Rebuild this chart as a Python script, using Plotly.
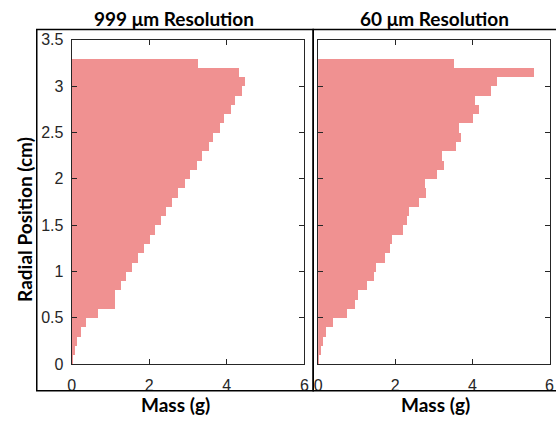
import plotly.graph_objects as go

# Radial bin centres (cm), 0.1 cm bins from 0 to 3.3
radial_pos = [round(0.05 + 0.1 * i, 2) for i in range(33)]

# Mass (g) per bin, bottom (0-0.1) to top (3.2-3.3)
mass_999um = [0.02, 0.07, 0.14, 0.24, 0.36, 0.67, 1.10, 1.10, 1.26, 1.40,
              1.55, 1.70, 1.85, 2.00, 2.14, 2.29, 2.43, 2.58, 2.72, 2.90,
              3.03, 3.21, 3.35, 3.52, 3.64, 3.82, 3.92, 4.09, 4.19, 4.38,
              4.45, 4.31, 3.25]
mass_60um = [0.02, 0.07, 0.14, 0.22, 0.38, 0.76, 0.96, 1.03, 1.28, 1.45,
             1.50, 1.74, 1.87, 1.93, 2.20, 2.32, 2.35, 2.63, 2.81, 2.77,
             3.09, 3.26, 3.21, 3.57, 3.72, 3.65, 4.03, 4.18, 4.07, 4.48,
             4.63, 5.59, 3.52]

titles = ["999 μm Resolution", "60 μm Resolution"]
x_title = "Mass (g)"
y_title = "Radial Position (cm)"
x_ticks = [0, 2, 4, 6]
y_ticks = [0, 0.5, 1, 1.5, 2, 2.5, 3, 3.5]

W, H = 556, 427
BAR = "#F09191"

def px(x):
    return x / W

def py(y):
    return 1 - y / H

fig = go.Figure()
fig.add_trace(go.Bar(x=mass_999um, y=radial_pos, orientation="h", width=0.1,
                     marker=dict(color=BAR, line=dict(width=0)),
                     xaxis="x", yaxis="y", showlegend=False))
fig.add_trace(go.Bar(x=mass_60um, y=radial_pos, orientation="h", width=0.1,
                     marker=dict(color=BAR, line=dict(width=0)),
                     xaxis="x2", yaxis="y2", showlegend=False))

tickfont = dict(family="Liberation Sans, Arial, sans-serif", size=16, color="#262626")
ax_common = dict(showgrid=False, zeroline=False, showline=True, linecolor="#262626",
                 linewidth=1, mirror="ticks", ticks="inside", ticklen=5,
                 tickcolor="#262626", tickfont=tickfont)

ydom = [py(371), py(33)]
fig.update_layout(
    width=W, height=H,
    margin=dict(l=0, r=0, t=0, b=0),
    paper_bgcolor="white", plot_bgcolor="white",
    bargap=0,
    xaxis=dict(domain=[px(68.7), px(305.3)], range=[0, 6], tickvals=x_ticks,
               anchor="y", ticklabelstandoff=7, **ax_common),
    yaxis=dict(domain=ydom, range=[0, 3.5], tickvals=y_ticks, anchor="x",
               ticklabelstandoff=4, **ax_common),
    xaxis2=dict(domain=[px(319.3), px(554.5)], range=[0, 6], tickvals=x_ticks,
                anchor="y2", ticklabelstandoff=7, **ax_common),
    yaxis2=dict(domain=ydom, range=[0, 3.5], tickvals=y_ticks, anchor="x2",
                showticklabels=False, **ax_common),
)

# outer frames
for x0, x1 in [(33.3, 314.3), (314.3, 600)]:
    fig.add_shape(type="rect", xref="paper", yref="paper",
                  x0=px(x0), x1=px(x1), y0=py(398.5), y1=py(22.5),
                  line=dict(color="black", width=1.5), fillcolor="rgba(0,0,0,0)")

lblfont = dict(family="Lato, Open Sans, sans-serif", size=19, color="black")
for cx, t in [(173, titles[0]), (438, titles[1])]:
    fig.add_annotation(text="<b>%s</b>" % t, x=px(cx), y=py(11), xref="paper",
                       yref="paper", showarrow=False, font=lblfont,
                       xanchor="center", yanchor="middle")
for cx in [174, 439]:
    fig.add_annotation(text="<b>%s</b>" % x_title, x=px(cx), y=py(413), xref="paper",
                       yref="paper", showarrow=False, font=lblfont,
                       xanchor="center", yanchor="middle")
fig.add_annotation(text="<b>%s</b>" % y_title, x=px(21), y=py(220), xref="paper",
                   yref="paper", showarrow=False, font=lblfont, textangle=-90,
                   xanchor="center", yanchor="middle")

fig.write_html("out.html")
